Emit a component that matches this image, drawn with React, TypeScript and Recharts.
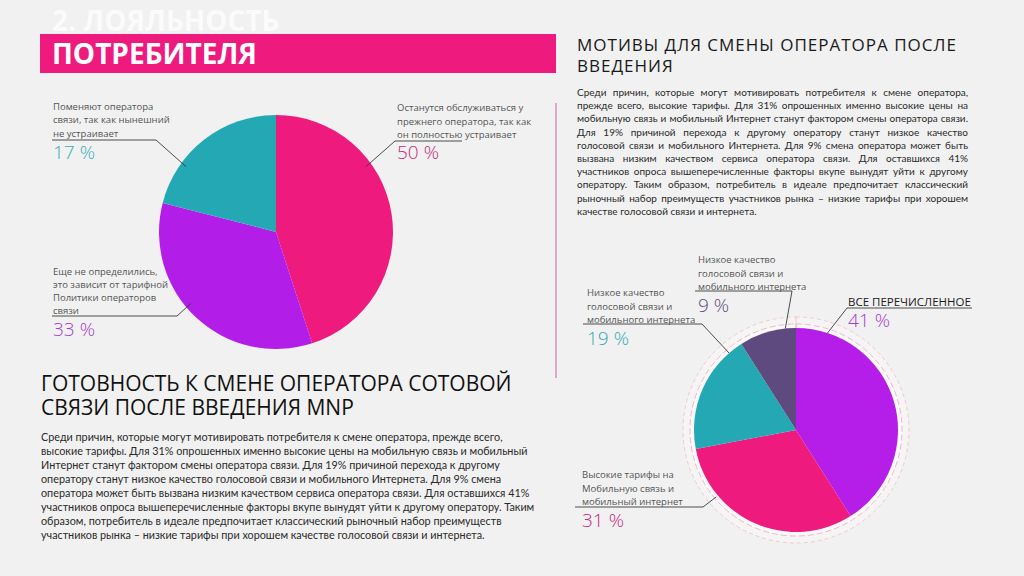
import React from "react";
import { PieChart, Pie, Cell } from "recharts";

// left pie: readiness to change operator (slice sizes as drawn, labels as printed)
const leftNames = ["Останутся", "Не определились", "Поменяют"];
const leftShares = [45, 34, 21];
const leftPercents = ["50 %", "33 %", "17 %"];
const leftColors = ["#ee1a7e", "#b31de8", "#24a9b4"];
const leftPercentColors = ["#c42a7c", "#a63ccc", "#34aeb8"];
const leftCaptions = [
  ["Останутся обслуживаться у", "прежнего оператора, так как", "он полностью устраивает"],
  ["Еще не определились,", "это зависит от тарифной", "Политики операторов", "связи"],
  ["Поменяют оператора", "связи, так как нынешний", "не устраивает"],
];

// right pie: motives for switching
const rightNames = ["Все перечисленное", "Высокие тарифы", "Качество связи", "Качество сервиса"];
const rightShares = [41, 31, 19, 9];
const rightPercents = ["41 %", "31 %", "19 %", "9 %"];
const rightColors = ["#b41ee8", "#ee1a7e", "#24a9b4", "#5f4a7f"];
const rightPercentColors = ["#a83ad8", "#c42a7c", "#33aab4", "#5c4c80"];
const rightCaptions = [
  ["ВСЕ ПЕРЕЧИСЛЕННОЕ"],
  ["Высокие тарифы на", "Мобильную связь и", "мобильный интернет"],
  ["Низкое качество", "голосовой связи и", "мобильного интернета"],
  ["Низкое качество", "голосовой связи и", "мобильного интернета"],
];

const rightParagraph = [
  "Среди причин, которые могут мотивировать потребителя к смене оператора,",
  "прежде всего, высокие тарифы. Для 31% опрошенных именно высокие цены на",
  "мобильную связь и мобильный Интернет станут фактором смены оператора связи.",
  "Для 19% причиной перехода к другому оператору станут низкое качество",
  "голосовой связи и мобильного Интернета. Для 9% смена оператора может быть",
  "вызвана низким качеством сервиса оператора связи. Для оставшихся 41%",
  "участников опроса вышеперечисленные факторы вкупе вынудят уйти к другому",
  "оператору. Таким образом, потребитель в идеале предпочитает классический",
  "рыночный набор преимуществ участников рынка – низкие тарифы при хорошем",
  "качестве голосовой связи и интернета.",
];

const leftParagraph = [
  "Среди причин, которые могут мотивировать потребителя к смене оператора, прежде всего,",
  "высокие тарифы. Для 31% опрошенных именно высокие цены на мобильную связь и мобильный",
  "Интернет станут фактором смены оператора связи. Для 19% причиной перехода к другому",
  "оператору станут низкое качество голосовой связи и мобильного Интернета. Для 9% смена",
  "оператора может быть вызвана низким качеством сервиса оператора связи. Для оставшихся 41%",
  "участников опроса вышеперечисленные факторы вкупе вынудят уйти к другому оператору. Таким",
  "образом, потребитель в идеале предпочитает классический рыночный набор преимуществ",
  "участников рынка – низкие тарифы при хорошем качестве голосовой связи и интернета.",
];

const leftData = leftNames.map((name, i) => ({ name, value: leftShares[i] }));
const rightData = rightNames.map((name, i) => ({ name, value: rightShares[i] }));
const ring = [{ name: "ring", value: 1 }];

// label placement (annotation layout only)
const leftLayout = [
  { x: 397, rows: [107, 121, 134], lineY: 141, elbowX: 395, endX: 462, pctY: 152, tip: 54, tipR: 0.95 },
  { x: 53, rows: [271, 284, 297, 310], lineY: 316, elbowX: 177, endX: 52, pctY: 329, tip: 230, tipR: 0.95 },
  { x: 53, rows: [106, 119, 133], lineY: 140, elbowX: 156, endX: 52, pctY: 152, tip: 306, tipR: 0.95 },
];
const rightLayout = [
  { x: 848, rows: [301], lineY: 308, elbowX: 847, endX: 972, pctY: 320, tip: 18, tipR: 1.0 },
  { x: 582, rows: [474, 488, 501], lineY: 507, elbowX: 703, endX: 575, pctY: 520, tip: 230, tipR: 1.02 },
  { x: 587, rows: [292, 306, 319], lineY: 324, elbowX: 702, endX: 583, pctY: 338, tip: 319, tipR: 1.0 },
  { x: 698, rows: [259, 273, 286], lineY: 291, elbowX: 792, endX: 695, pctY: 305, tip: 354, tipR: 1.0 },
];

const LEFT = { cx: 276, cy: 232, r: 117 };
const RIGHT = { cx: 796, cy: 430, r: 102 };
const RAD = Math.PI / 180;
const FONT = "'Open Sans', 'DejaVu Sans', sans-serif";

const makeLabel = (
  layout: typeof leftLayout,
  captions: string[][],
  percents: string[],
  colors: string[],
  center: { cx: number; cy: number; r: number },
  bold: boolean
) => (props: any) => {
  const i = props.index;
  const l = layout[i];
  const cx = props.cx ?? center.cx;
  const cy = props.cy ?? center.cy;
  const r = (props.outerRadius ?? center.r) * l.tipR;
  const tx = cx + r * Math.sin(l.tip * RAD);
  const ty = cy - r * Math.cos(l.tip * RAD);
  const caps = bold && i === 0;
  return (
    <g key={`lbl-${i}`}>
      <polyline
        points={`${tx},${ty} ${l.elbowX},${l.lineY} ${l.endX},${l.lineY}`}
        fill="none"
        stroke="#3a3a3a"
        strokeWidth={0.9}
      />
      {captions[i].map((t, k) => (
        <text
          key={k}
          x={l.x}
          y={l.rows[k]}
          dominantBaseline="central"
          fontFamily={FONT}
          fontSize={caps ? 11.5 : 9.5}
          fill={caps ? "#1a1a1a" : "#555"}
        >
          {t}
        </text>
      ))}
      <text
        x={l.x}
        y={l.pctY}
        dominantBaseline="central"
        fontFamily={FONT}
        fontWeight={300}
        fontSize={19}
        fill={colors[i]}
      >
        {percents[i]}
      </text>
    </g>
  );
};

export default function App() {
  return (
    <div
      style={{
        position: "fixed",
        left: 0,
        top: 0,
        width: 1024,
        height: 576,
        background: "#f1f1f1",
        overflow: "hidden",
        fontFamily: FONT,
      }}
    >
      <div style={{ position: "absolute", left: 40, top: 34, width: 516, height: 39, background: "#ee1a7e" }} />
      <div
        style={{
          position: "absolute",
          left: 52,
          top: 6,
          fontSize: 28,
          lineHeight: "28px",
          fontWeight: 700,
          color: "#fbfbfb",
          whiteSpace: "nowrap",
        }}
      >
        2. ЛОЯЛЬНОСТЬ
      </div>
      <div
        style={{
          position: "absolute",
          left: 52,
          top: 39,
          fontSize: 28,
          lineHeight: "28px",
          fontWeight: 700,
          color: "#ffffff",
          whiteSpace: "nowrap",
        }}
      >
        ПОТРЕБИТЕЛЯ
      </div>
      <div style={{ position: "absolute", left: 555, top: 103, width: 1.5, height: 275, background: "#dba8cc" }} />

      <div style={{ position: "absolute", left: 0, top: 0 }}>
        <PieChart width={1024} height={576} margin={{ top: 0, right: 0, bottom: 0, left: 0 }}>
          <Pie
            data={ring}
            dataKey="value"
            cx={RIGHT.cx}
            cy={RIGHT.cy}
            outerRadius={113}
            startAngle={90}
            endAngle={-270}
            fill="#f6f4f5"
            stroke="#e8c4bc"
            strokeWidth={0.8}
            strokeDasharray="4 3"
            isAnimationActive={false}
          />
          <Pie
            data={ring}
            dataKey="value"
            cx={RIGHT.cx}
            cy={RIGHT.cy}
            outerRadius={106}
            startAngle={90}
            endAngle={-270}
            fill="#faf8f9"
            stroke="#e6aac2"
            strokeWidth={0.8}
            strokeDasharray="6 3"
            isAnimationActive={false}
          />
          <Pie
            data={rightData}
            dataKey="value"
            nameKey="name"
            cx={RIGHT.cx}
            cy={RIGHT.cy}
            outerRadius={RIGHT.r}
            startAngle={90}
            endAngle={-270}
            stroke="none"
            labelLine={false}
            label={makeLabel(rightLayout, rightCaptions, rightPercents, rightPercentColors, RIGHT, true)}
            isAnimationActive={false}
          >
            {rightData.map((d, i) => (
              <Cell key={d.name} fill={rightColors[i]} />
            ))}
          </Pie>
          <Pie
            data={leftData}
            dataKey="value"
            nameKey="name"
            cx={LEFT.cx}
            cy={LEFT.cy}
            outerRadius={LEFT.r}
            startAngle={90}
            endAngle={-270}
            stroke="none"
            labelLine={false}
            label={makeLabel(leftLayout, leftCaptions, leftPercents, leftPercentColors, LEFT, false)}
            isAnimationActive={false}
          >
            {leftData.map((d, i) => (
              <Cell key={d.name} fill={leftColors[i]} />
            ))}
          </Pie>
        </PieChart>
      </div>

      <div
        style={{
          position: "absolute",
          left: 577,
          top: 35,
          fontSize: 17,
          lineHeight: "20.5px",
          color: "#1a1a1a",
          letterSpacing: 1.0,
          width: 440,
        }}
      >
        <div style={{ whiteSpace: "nowrap" }}>МОТИВЫ ДЛЯ СМЕНЫ ОПЕРАТОРА ПОСЛЕ</div>
        <div style={{ whiteSpace: "nowrap" }}>ВВЕДЕНИЯ</div>
      </div>
      <div
        style={{
          position: "absolute",
          left: 577,
          top: 86,
          width: 391,
          fontFamily: "Lato, 'Open Sans', sans-serif",
          fontSize: 10,
          lineHeight: "13.2px",
          color: "#2a2a2a",
        }}
      >
        {rightParagraph.map((t, i) => (
          <div
            key={i}
            style={{
              textAlign: "justify",
              textAlignLast: i === rightParagraph.length - 1 ? "left" : "justify",
              whiteSpace: "nowrap",
              height: 13.2,
            }}
          >
            {t}
          </div>
        ))}
      </div>

      <div
        style={{
          position: "absolute",
          left: 41,
          top: 371,
          fontSize: 21,
          lineHeight: "24px",
          color: "#111",
          whiteSpace: "nowrap",
        }}
      >
        <div>ГОТОВНОСТЬ К СМЕНЕ ОПЕРАТОРА СОТОВОЙ</div>
        <div>СВЯЗИ ПОСЛЕ ВВЕДЕНИЯ MNP</div>
      </div>
      <div
        style={{
          position: "absolute",
          left: 41,
          top: 430,
          fontFamily: "Lato, 'Open Sans', sans-serif",
          fontSize: 10.8,
          lineHeight: "14px",
          color: "#2a2a2a",
          whiteSpace: "nowrap",
        }}
      >
        {leftParagraph.map((t, i) => (
          <div key={i}>{t}</div>
        ))}
      </div>
    </div>
  );
}
